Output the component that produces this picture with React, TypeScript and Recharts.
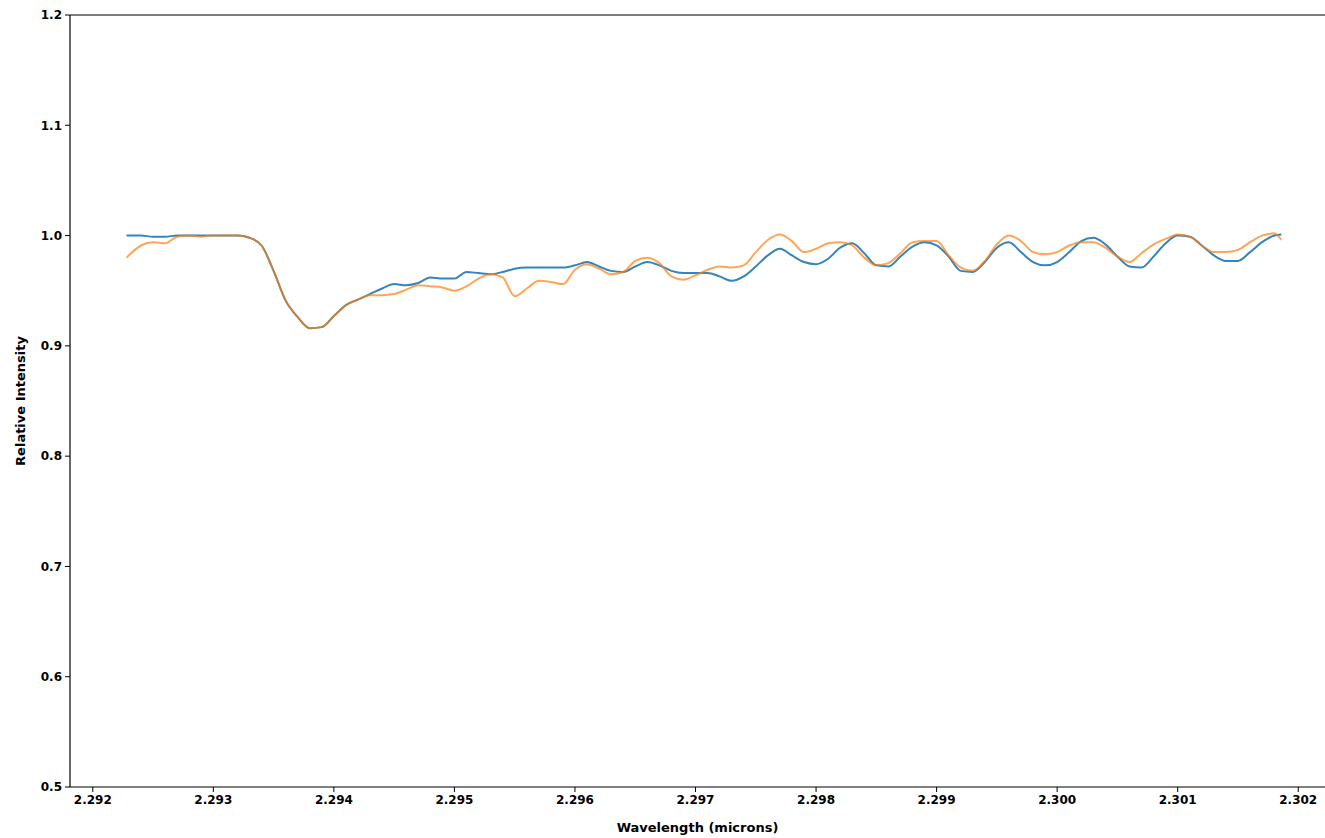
import { LineChart, Line, XAxis, YAxis, ReferenceLine } from 'recharts';

const wavelengths = [
  2.29228, 2.2924, 2.2925, 2.2926, 2.2927, 2.2928, 2.2929, 2.293, 2.2931, 2.2932, 2.2933,
  2.2934, 2.2935, 2.2936, 2.2937, 2.2938, 2.2939, 2.294, 2.2941, 2.2942, 2.2943,
  2.2944, 2.2945, 2.2946, 2.2947, 2.2948, 2.2949, 2.295, 2.2951, 2.2952, 2.2953,
  2.2954, 2.2955, 2.2956, 2.2957, 2.2958, 2.2959, 2.296, 2.2961, 2.2962, 2.2963,
  2.2964, 2.2965, 2.2966, 2.2967, 2.2968, 2.2969, 2.297, 2.2971, 2.2972, 2.2973,
  2.2974, 2.2975, 2.2976, 2.2977, 2.2978, 2.2979, 2.298, 2.2981, 2.2982, 2.2983,
  2.2984, 2.2985, 2.2986, 2.2987, 2.2988, 2.2989, 2.299, 2.2991, 2.2992, 2.2993,
  2.2994, 2.2995, 2.2996, 2.2997, 2.2998, 2.2999, 2.3, 2.3001, 2.3002, 2.3003,
  2.3004, 2.3005, 2.3006, 2.3007, 2.3008, 2.3009, 2.301, 2.3011, 2.3012, 2.3013,
  2.3014, 2.3015, 2.3016, 2.3017, 2.3018, 2.30186,
];

const blueIntensity = [
  1.0, 1.0, 0.999, 0.999, 1.0, 1.0, 1.0, 1.0, 1.0, 1.0, 0.998,
  0.991, 0.968, 0.941, 0.926, 0.916, 0.917, 0.927, 0.937, 0.942, 0.947,
  0.952, 0.956, 0.955, 0.957, 0.962, 0.961, 0.961, 0.967, 0.966, 0.965,
  0.967, 0.97, 0.971, 0.971, 0.971, 0.971, 0.973, 0.976, 0.972, 0.968,
  0.967, 0.972, 0.976, 0.973, 0.968, 0.966, 0.966, 0.966, 0.963, 0.959,
  0.963, 0.972, 0.982, 0.988, 0.982, 0.976, 0.974, 0.979, 0.989, 0.993,
  0.984, 0.973, 0.972, 0.981, 0.99, 0.994, 0.991, 0.981, 0.968, 0.967,
  0.976, 0.989, 0.994, 0.985, 0.976, 0.973, 0.976, 0.985, 0.995, 0.998,
  0.992, 0.981, 0.972, 0.971, 0.981, 0.993, 1.0, 0.999, 0.991, 0.982,
  0.977, 0.977, 0.985, 0.994, 1.0, 1.001,
];

const orangeIntensity = [
  0.98, 0.991, 0.994, 0.993, 0.999, 1.0, 0.999, 1.0, 1.0, 1.0, 0.998,
  0.991, 0.968, 0.941, 0.926, 0.916, 0.917, 0.927, 0.937, 0.942, 0.946,
  0.946, 0.947, 0.951, 0.955, 0.954, 0.953, 0.95, 0.954, 0.961, 0.965,
  0.962, 0.945, 0.952, 0.959, 0.958, 0.956, 0.969, 0.974, 0.97, 0.965,
  0.967, 0.977, 0.98, 0.975, 0.963, 0.96, 0.964, 0.969, 0.972, 0.971,
  0.973, 0.985, 0.996, 1.001, 0.995, 0.985, 0.988, 0.993, 0.994, 0.991,
  0.98, 0.973, 0.975, 0.984, 0.994, 0.995, 0.995, 0.982, 0.971, 0.968,
  0.977, 0.992, 1.0, 0.995, 0.985, 0.983, 0.985, 0.991, 0.994, 0.994,
  0.989, 0.981, 0.976, 0.984, 0.992, 0.997, 1.001, 0.999, 0.991, 0.985,
  0.985, 0.987, 0.994, 1.0, 1.002, 0.996,
];

const xTicks = [2.292, 2.293, 2.294, 2.295, 2.296, 2.297, 2.298, 2.299, 2.3, 2.301, 2.302];
const yTicks = [0.5, 0.6, 0.7, 0.8, 0.9, 1.0, 1.1, 1.2];

const rows = wavelengths.map((w, i) => ({
  w,
  blue: blueIntensity[i],
  orange: orangeIntensity[i],
}));

const FONT = '"DejaVu Sans", sans-serif';
const tickStyle = { fill: '#000', fontSize: 12, fontWeight: 'bold', fontFamily: FONT };

export default function App() {
  return (
    <div style={{ position: 'absolute', left: 0, top: 0, width: 1325, height: 838, background: '#fff' }}>
      <LineChart width={1325} height={838} data={rows} margin={{ top: 15, right: 0, left: 0, bottom: 0 }}>
        <XAxis
          dataKey="w"
          type="number"
          domain={[2.291811, 2.302222]}
          allowDataOverflow
          ticks={xTicks}
          tickFormatter={(v: number) => v.toFixed(3)}
          tick={tickStyle}
          tickSize={5}
          tickMargin={3}
          axisLine={{ stroke: '#000', strokeWidth: 1.2 }}
          tickLine={{ stroke: '#000' }}
          height={51}
          label={{
            value: 'Wavelength (microns)',
            position: 'insideBottom',
            offset: 6,
            fill: '#000',
            fontSize: 13,
            fontWeight: 'bold',
            fontFamily: FONT,
          }}
        />
        <YAxis
          type="number"
          domain={[0.5, 1.2]}
          allowDataOverflow
          ticks={yTicks}
          tickFormatter={(v: number) => v.toFixed(1)}
          tick={tickStyle}
          tickSize={5}
          tickMargin={3}
          axisLine={{ stroke: '#000', strokeWidth: 1.2 }}
          tickLine={{ stroke: '#000' }}
          width={70}
          label={{
            value: 'Relative Intensity',
            angle: -90,
            position: 'insideLeft',
            offset: 20,
            fill: '#000',
            fontSize: 13,
            fontWeight: 'bold',
            fontFamily: FONT,
            style: { textAnchor: 'middle' },
          }}
        />
        <ReferenceLine y={1.2} stroke="#000" strokeWidth={1.2} />
        <Line
          dataKey="blue"
          type="monotone"
          stroke="#1f77b4"
          strokeOpacity={0.9}
          strokeWidth={2}
          dot={false}
          isAnimationActive={false}
        />
        <Line
          dataKey="orange"
          type="monotone"
          stroke="#ff7f0e"
          strokeOpacity={0.7}
          strokeWidth={2}
          dot={false}
          isAnimationActive={false}
        />
      </LineChart>
    </div>
  );
}
